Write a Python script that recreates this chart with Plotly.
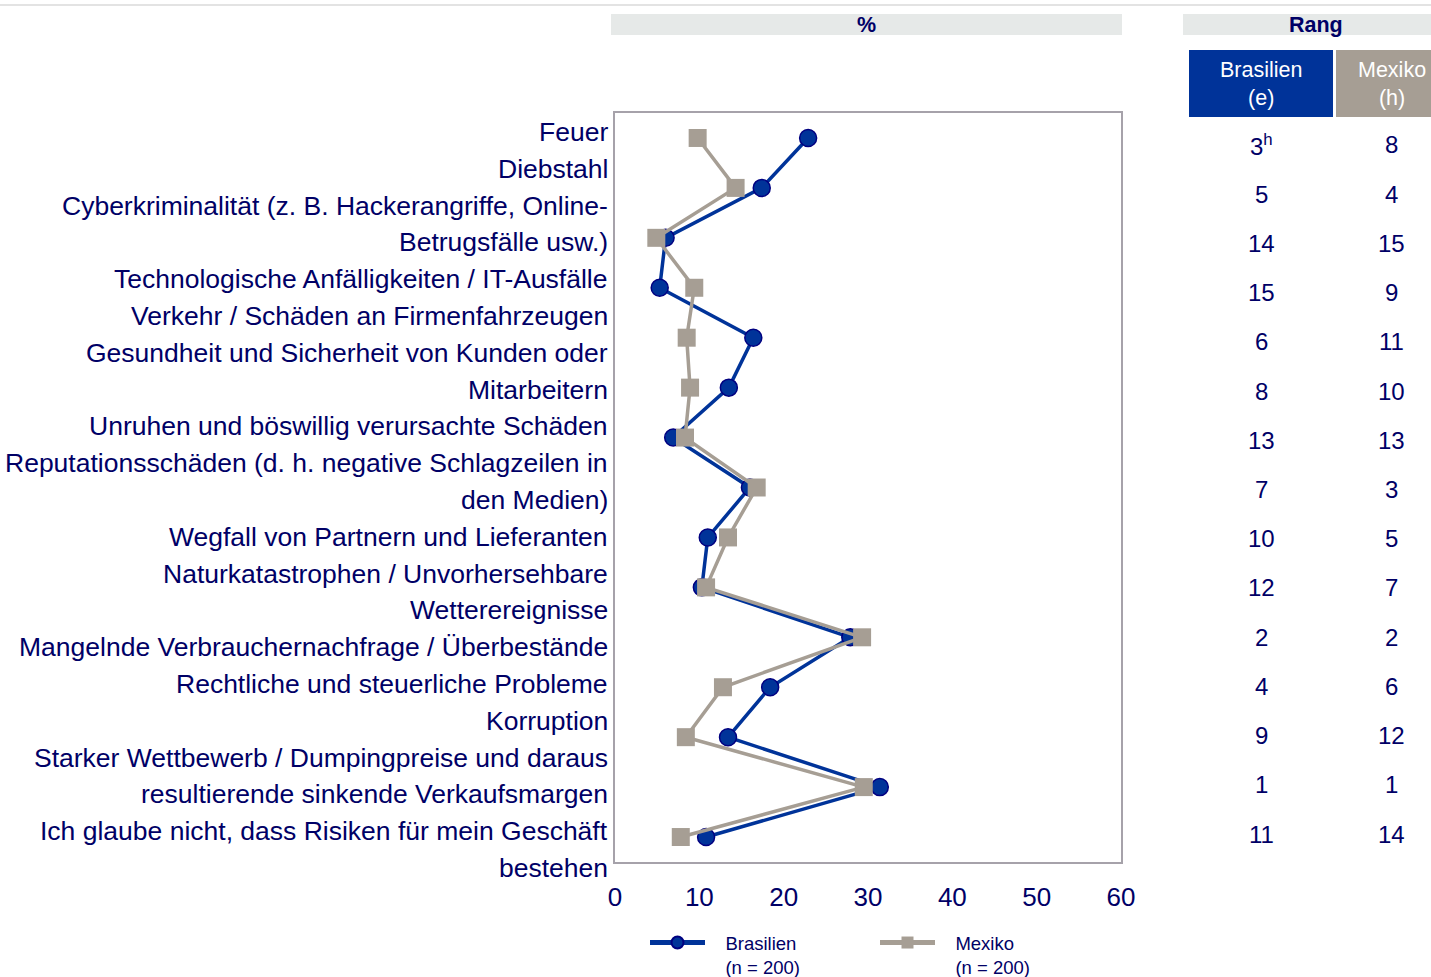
import plotly.graph_objects as go

categories = [
    "Feuer",
    "Diebstahl",
    "Cyberkriminalität (z. B. Hackerangriffe, Online-|Betrugsfälle usw.)",
    "Technologische Anfälligkeiten / IT-Ausfälle",
    "Verkehr / Schäden an Firmenfahrzeugen",
    "Gesundheit und Sicherheit von Kunden oder|Mitarbeitern",
    "Unruhen und böswillig verursachte Schäden",
    "Reputationsschäden (d. h. negative Schlagzeilen in|den Medien)",
    "Wegfall von Partnern und Lieferanten",
    "Naturkatastrophen / Unvorhersehbare|Wetterereignisse",
    "Mangelnde Verbrauchernachfrage / Überbestände",
    "Rechtliche und steuerliche Probleme",
    "Korruption",
    "Starker Wettbewerb / Dumpingpreise und daraus|resultierende sinkende Verkaufsmargen",
    "Ich glaube nicht, dass Risiken für mein Geschäft|bestehen",
]
brasilien = [22.9, 17.4, 6.0, 5.3, 16.4, 13.5, 6.9, 16.0, 11.0, 10.3, 27.9, 18.4, 13.4, 31.4, 10.8]
mexiko = [9.8, 14.3, 4.9, 9.4, 8.5, 8.9, 8.3, 16.8, 13.4, 10.8, 29.3, 12.8, 8.4, 29.5, 7.8]
rank_brasilien = ["3<sup>h</sup>", "5", "14", "15", "6", "8", "13", "7", "10", "12", "2", "4", "9", "1", "11"]
rank_mexiko = ["8", "4", "15", "9", "11", "10", "13", "3", "5", "7", "2", "6", "12", "1", "14"]
series_names = ["Brasilien|(n = 200)", "Mexiko|(n = 200)"]
tick_values = [0, 10, 20, 30, 40, 50, 60]

NAVY = "#000066"
BLUE = "#003399"
GREY = "#a69e94"
FONT = "Liberation Sans, Arial, sans-serif"

W, H = 1431, 977
L, R, T, B = 615, 1121, 113, 862  # plot area in pixels

def px_x(px):
    return (px - L) / (R - L)

def px_y(py):
    return (B - py) / (B - T)

y_keys = [c.replace("|", " ") for c in categories]
pad = "\u00a0\u00a0\u00a0"
legend_names = ["<br>".join(pad + part for part in s.split("|")) for s in series_names]

fig = go.Figure()
fig.add_trace(go.Scatter(
    x=brasilien, y=y_keys, mode="lines+markers", name=legend_names[0],
    line=dict(color=BLUE, width=3.5),
    marker=dict(symbol="circle", size=17, color=BLUE, line=dict(color="#000080", width=1.5)),
))
fig.add_trace(go.Scatter(
    x=mexiko, y=y_keys, mode="lines+markers", name=legend_names[1],
    line=dict(color=GREY, width=3.5),
    marker=dict(symbol="square", size=18, color=GREY, line=dict(width=0)),
))

annotations = []
lines = []
for c in categories:
    lines.extend(c.split("|"))
n = len(lines)
top_px, bot_px = 132, 868
step = (bot_px - top_px) / (n - 1)
for i, ln in enumerate(lines):
    annotations.append(dict(
        x=px_x(610), y=px_y(top_px + i * step), xref="paper", yref="paper",
        text=ln, showarrow=False, xanchor="right", yanchor="middle",
        font=dict(family=FONT, size=26.5, color=NAVY),
    ))

row_top, row_bot = 145, 834
rstep = (row_bot - row_top) / (len(categories) - 1)
for i in range(len(categories)):
    yy = px_y(row_top + i * rstep)
    annotations.append(dict(x=px_x(1261), y=yy, xref="paper", yref="paper", text=rank_brasilien[i],
                            showarrow=False, xanchor="center", yanchor="middle",
                            font=dict(family=FONT, size=24, color=NAVY)))
    annotations.append(dict(x=px_x(1391), y=yy, xref="paper", yref="paper", text=rank_mexiko[i],
                            showarrow=False, xanchor="center", yanchor="middle",
                            font=dict(family=FONT, size=24, color=NAVY)))

annotations.append(dict(x=px_x(866), y=px_y(25), xref="paper", yref="paper", text="<b>%</b>",
                        showarrow=False, xanchor="center", yanchor="middle",
                        font=dict(family=FONT, size=21.5, color=NAVY)))
annotations.append(dict(x=px_x(1316), y=px_y(25), xref="paper", yref="paper", text="<b>Rang</b>",
                        showarrow=False, xanchor="center", yanchor="middle",
                        font=dict(family=FONT, size=21.5, color=NAVY)))
annotations.append(dict(x=px_x(1261), y=px_y(84), xref="paper", yref="paper", text="Brasilien<br>(e)",
                        showarrow=False, xanchor="center", yanchor="middle",
                        font=dict(family=FONT, size=21.5, color="white")))
annotations.append(dict(x=px_x(1392), y=px_y(84), xref="paper", yref="paper", text="Mexiko<br>(h)",
                        showarrow=False, xanchor="center", yanchor="middle",
                        font=dict(family=FONT, size=21.5, color="white")))

shapes = [
    dict(type="line", xref="paper", yref="paper", x0=px_x(0), x1=px_x(1431), y0=px_y(5), y1=px_y(5),
         line=dict(color="#e3e3e3", width=2)),
    dict(type="rect", xref="paper", yref="paper", x0=px_x(611), x1=px_x(1122), y0=px_y(35), y1=px_y(14),
         fillcolor="#e6e9e8", line=dict(width=0), layer="below"),
    dict(type="rect", xref="paper", yref="paper", x0=px_x(1183), x1=px_x(1431), y0=px_y(35), y1=px_y(14),
         fillcolor="#e6e9e8", line=dict(width=0), layer="below"),
    dict(type="rect", xref="paper", yref="paper", x0=px_x(1189), x1=px_x(1333), y0=px_y(117), y1=px_y(50),
         fillcolor=BLUE, line=dict(width=0), layer="below"),
    dict(type="rect", xref="paper", yref="paper", x0=px_x(1336), x1=px_x(1431), y0=px_y(117), y1=px_y(50),
         fillcolor=GREY, line=dict(width=0), layer="below"),
]

fig.update_layout(
    width=W, height=H,
    margin=dict(l=L, r=W - R, t=T, b=H - B, autoexpand=False),
    paper_bgcolor="white", plot_bgcolor="white",
    font=dict(family=FONT, color=NAVY),
    showlegend=True,
    legend=dict(orientation="h", x=px_x(645), y=px_y(924), xanchor="left", yanchor="top",
                entrywidth=160, entrywidthmode="pixels", valign="top", tracegroupgap=0,
                itemsizing="constant",
                font=dict(family=FONT, size=18.5, color=NAVY), itemwidth=55),
    annotations=annotations, shapes=shapes,
)
fig.update_xaxes(range=[0, 60], tickvals=tick_values, showgrid=False, zeroline=False,
                 showline=True, linecolor="#a6a2aa", linewidth=2, mirror=True,
                 ticks="", ticklabelstandoff=11,
                 tickfont=dict(family=FONT, size=26, color=NAVY))
fig.update_yaxes(categoryorder="array", categoryarray=y_keys, range=[14.5, -0.5],
                 showticklabels=False, showgrid=False, zeroline=False,
                 showline=True, linecolor="#a6a2aa", linewidth=2, mirror=True, ticks="")

fig.write_html("out.html", config={"displayModeBar": False},
               post_script="document.body.style.margin='0px';document.body.style.overflow='hidden';")
